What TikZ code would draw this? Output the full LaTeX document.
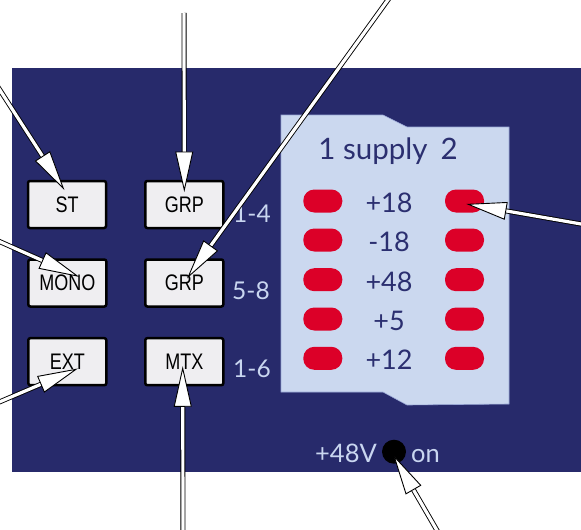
\documentclass[tikz,border=0pt]{standalone}
\usepackage{fontspec}
\setmainfont{Lato}
\newfontfamily\arialf{Liberation Sans}
\usetikzlibrary{calc}
\definecolor{navy}{HTML}{272A6B}
\definecolor{pale}{HTML}{CBD8EF}
\definecolor{paleedge}{HTML}{9AA8D6}
\definecolor{ledred}{HTML}{DC0028}
\definecolor{btnfill}{HTML}{EFEEF1}
\definecolor{lbl}{HTML}{C9D6F0}
\definecolor{ink}{HTML}{2B2F70}
\newcommand\callout[2]{%
  \coordinate (hb) at ($(#2)!38pt!(#1)$);
  \draw[shaft] (#1) -- ($(#2)!35pt!(#1)$);
  \draw[headtip] (#2) -- ($(hb)!8.5pt!90:(#2)$) -- ($(hb)!8.5pt!-90:(#2)$) -- cycle;
}
\begin{document}
\begin{tikzpicture}[x=1pt,y=-1pt,
  btn/.style={draw=black, line width=2.5pt, fill=btnfill, rounded corners=2pt,
    minimum width=78pt, minimum height=47pt, inner sep=0pt,
    font=\arialf\fontsize{22.5}{22.5}\selectfont},
  pill/.style={fill=ledred, rounded corners=11pt, minimum width=39pt,
    minimum height=23pt, inner sep=0pt},
  val/.style={anchor=base, inner sep=0pt, text=ink, font=\fontsize{27}{27}\selectfont},
  side/.style={anchor=base west, inner sep=0pt, text=lbl, font=\fontsize{24.5}{24.5}\selectfont},
  shaft/.style={draw=black, line width=0.9pt, double=white, double distance=3.2pt},
  headtip/.style={draw=black, line width=0.9pt, fill=white, line join=miter}]
\useasboundingbox (0,0) rectangle (581,530);
\fill[white] (0,0) rectangle (581,530);
% main panel
\fill[navy] (12,68) rectangle (581,472);
% supply card
\filldraw[fill=pale, draw=paleedge, line width=0.6pt]
  (281,115) -- (383,115) -- (407,127) -- (509,127) -- (509,404)
  -- (407,405) -- (383,392) -- (281,392) -- cycle;
\node[anchor=base, inner sep=0pt, text=ink, font=\fontsize{29.5}{29.5}\selectfont]
  (hdr) at (388,159.5) {1 supply\hspace{13pt}2};
% LEDs and values
\foreach \y/\t [count=\i] in {201/+18, 240/-18, 279.7/+48, 319/+5, 358.3/+12}{
  \node[pill] (L\i) at (322.8,\y) {};
  \node[pill] (R\i) at (464.5,\y) {};
  \node[val] (v\i) at (389,\y+11.5) {\t};
}
% buttons
\node[btn] (st)   at (67,204.5)  {\scalebox{0.8}[1]{ST}};
\node[btn] (grpa) at (184.3,204.5) {\scalebox{0.8}[1]{GRP}};
\node[btn] (mono) at (67.3,283)  {\scalebox{0.8}[1]{MONO}};
\node[btn] (grpb) at (184.3,283) {\scalebox{0.8}[1]{GRP}};
\node[btn] (ext)  at (67.3,361.7) {\scalebox{0.8}[1]{EXT}};
\node[btn] (mtx)  at (184.3,361.7) {\scalebox{0.8}[1]{MTX}};
% side labels
\node[side] (s1) at (233,222) {1-4};
\node[side] (s2) at (232,299) {5-8};
\node[side] (s3) at (233,377.5) {1-6};
% phantom power
\node[anchor=base east, inner sep=0pt, text=lbl, font=\fontsize{25.5}{25.5}\selectfont] (p48) at (377,462.5) {+48V};
\node[anchor=base west, inner sep=0pt, text=lbl, font=\fontsize{25.5}{25.5}\selectfont] (pon) at (411,462.5) {on};
\node[circle, fill=black, minimum size=24pt, inner sep=0pt] (dot) at (394,451.7) {};
% callout coordinates
\coordinate (aST) at (-4,84);      \coordinate (tST) at (63.3,188.3);
\coordinate (aGA) at (184,13);     \coordinate (tGA) at (184.3,190);
\coordinate (aGB) at (390,-3);     \coordinate (tGB) at (188.3,276.7);
\coordinate (aMO) at (-3,240.4);   \coordinate (tMO) at (77.3,276);
\coordinate (aEX) at (-3,403);     \coordinate (tEX) at (76,369.3);
\coordinate (aMX) at (183,533);    \coordinate (tMX) at (182.7,368.3);
\coordinate (aLD) at (584,224.5);  \coordinate (tLD) at (468.3,204.3);
\coordinate (aDT) at (438.5,533);  \coordinate (tDT) at (394.3,456.7);
\callout{aST}{tST}
\callout{aGA}{tGA}
\callout{aGB}{tGB}
\callout{aMO}{tMO}
\callout{aEX}{tEX}
\callout{aMX}{tMX}
\callout{aLD}{tLD}
\callout{aDT}{tDT}
\end{tikzpicture}
\end{document}
